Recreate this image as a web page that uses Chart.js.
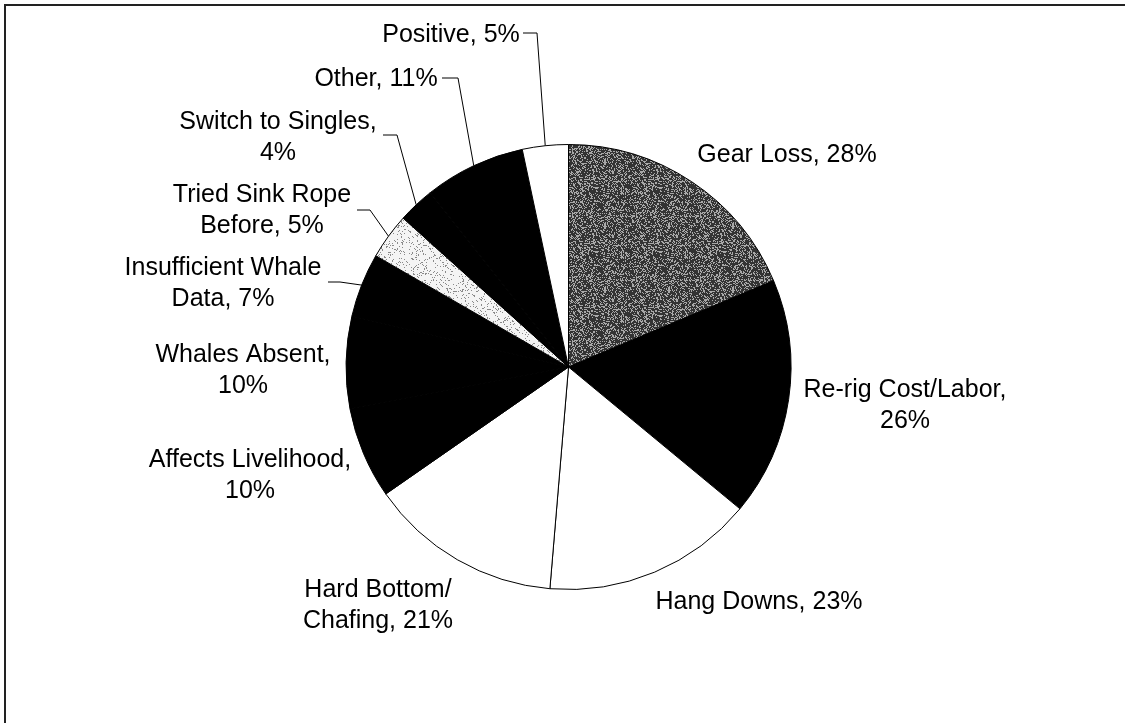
<!DOCTYPE html>
<html>
<head>
<meta charset="utf-8">
<script src="https://cdn.jsdelivr.net/npm/chart.js@4.4.1/dist/chart.umd.min.js"></script>
<style>
  html, body { margin: 0; padding: 0; background: #fff; }
  #wrap { width: 1125px; height: 723px; }
</style>
</head>
<body>
<div id="wrap"><canvas id="pie" width="1125" height="723"></canvas></div>
<script>
// slice names, clockwise from 12 o'clock ("\n" marks a line break inside the name)
const categories = ['Gear Loss', 'Re-rig Cost/Labor', 'Hang Downs', 'Hard Bottom/\nChafing',
    'Affects Livelihood', 'Whales Absent', 'Insufficient Whale\nData', 'Tried Sink Rope\nBefore',
    'Switch to Singles', 'Other', 'Positive'];
const percents = [28, 26, 23, 21, 10, 10, 7, 5, 4, 11, 5];

// label placement: text centre x, first line y, break after comma, leader [startX, startY, elbowX, elbowY]
const labelSpots = [
    { x: 787, y: 155, split: false, leader: null },
    { x: 905, y: 390, split: true, leader: null },
    { x: 759, y: 602, split: false, leader: null },
    { x: 378, y: 590, split: false, leader: null },
    { x: 250, y: 460, split: true, leader: null },
    { x: 243, y: 355, split: true, leader: null },
    { x: 223, y: 268, split: false, leader: [328, 282, 340, 282] },
    { x: 262, y: 195, split: false, leader: [357, 210, 370, 210] },
    { x: 278, y: 122, split: true, leader: [383, 135, 397, 135] },
    { x: 376, y: 79, split: false, leader: [442, 78, 458, 78] },
    { x: 451, y: 35, split: false, leader: [523, 33, 537, 33] }
];

// speckled fill like the scanned print (deterministic hash, texture only)
function speckle(base, dot, density) {
    const c = document.createElement('canvas');
    c.width = 64; c.height = 64;
    const g = c.getContext('2d');
    g.fillStyle = base;
    g.fillRect(0, 0, 64, 64);
    g.fillStyle = dot;
    for (let y = 0; y < 64; y++) {
        for (let x = 0; x < 64; x++) {
            let h = (x * 374761393 + y * 668265263) | 0;
            h = Math.imul(h ^ (h >>> 13), 1274126177);
            h = (h ^ (h >>> 16)) >>> 0;
            if ((h % 1000) / 1000 < density) g.fillRect(x, y, 1, 1);
        }
    }
    return g.createPattern(c, 'repeat');
}

const ctx = document.getElementById('pie').getContext('2d');
const darkGrey = speckle('#333', '#a8a8a8', 0.33);
const lightGrey = speckle('#f4f4f4', '#8a8a8a', 0.12);
const fills = [darkGrey, '#000', '#fff', '#fff', '#000', '#000', '#000', lightGrey, '#000', '#000', '#fff'];

const labelPlugin = {
    id: 'outsideLabels',
    beforeDraw(chart) {
        const c = chart.ctx;
        c.save();
        c.strokeStyle = '#222';
        c.lineWidth = 2;
        c.beginPath();
        c.moveTo(5, 723); c.lineTo(5, 5); c.lineTo(1125, 5);
        c.stroke();
        c.restore();
    },
    afterDatasetsDraw(chart) {
        const c = chart.ctx;
        const arcs = chart.getDatasetMeta(0).data;
        c.save();
        c.font = '25px "Liberation Sans", Arial, sans-serif';
        c.fillStyle = '#000';
        c.textAlign = 'center';
        c.textBaseline = 'middle';
        arcs.forEach((arc, i) => {
            const spot = labelSpots[i];
            let lines;
            if (spot.split) {
                lines = [categories[i] + ',', percents[i] + '%'];
            } else {
                lines = (categories[i] + ', ' + percents[i] + '%').split('\n');
            }
            lines.forEach((t, k) => c.fillText(t, spot.x, spot.y + k * 31.5));
            if (spot.leader) {
                const mid = (arc.startAngle + arc.endAngle) / 2;
                const ax = arc.x + arc.outerRadius * Math.cos(mid);
                const ay = arc.y + arc.outerRadius * Math.sin(mid);
                c.strokeStyle = '#000';
                c.lineWidth = 1;
                c.beginPath();
                c.moveTo(spot.leader[0], spot.leader[1]);
                c.lineTo(spot.leader[2], spot.leader[3]);
                c.lineTo(ax, ay);
                c.stroke();
            }
        });
        c.restore();
    }
};

new Chart(ctx, {
    type: 'pie',
    data: {
        labels: categories.map(s => s.replace('\n', ' ')),
        datasets: [{
            data: percents,
            backgroundColor: fills,
            borderColor: '#000',
            borderWidth: 1
        }]
    },
    options: {
        responsive: false,
        animation: false,
        layout: { padding: { top: 144, bottom: 133, left: 300, right: 288 } },
        plugins: {
            legend: { display: false },
            tooltip: { enabled: false }
        }
    },
    plugins: [labelPlugin]
});
</script>
</body>
</html>
